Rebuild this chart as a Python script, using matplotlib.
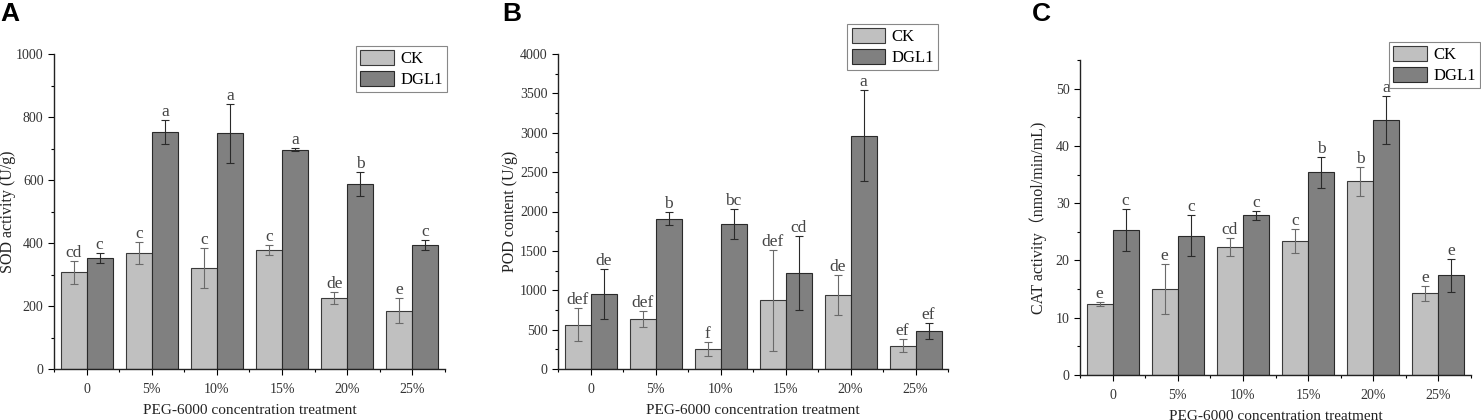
import numpy as np
import matplotlib.pyplot as plt
from matplotlib.ticker import MultipleLocator, AutoMinorLocator

plt.rcParams['font.family'] = ['Liberation Serif', 'Noto Sans CJK SC', 'DejaVu Sans']

groups = ["0", "5%", "10%", "15%", "20%", "25%"]

# A: SOD activity
sod_ck = [307, 368, 320, 378, 226, 185]
sod_ck_err = [36, 35, 64, 17, 19, 40]
sod_dgl = [352, 752, 748, 696, 587, 393]
sod_dgl_err = [15, 37, 94, 5, 38, 15]
sod_ck_let = ["cd", "c", "c", "c", "de", "e"]
sod_dgl_let = ["c", "a", "a", "a", "b", "c"]

# B: POD content
pod_ck = [563, 635, 254, 872, 940, 296]
pod_ck_err = [212, 97, 89, 643, 258, 85]
pod_dgl = [952, 1909, 1841, 1219, 2963, 483]
pod_dgl_err = [318, 85, 187, 470, 576, 105]
pod_ck_let = ["def", "def", "f", "def", "de", "ef"]
pod_dgl_let = ["de", "b", "bc", "cd", "a", "ef"]

# C: CAT activity
cat_ck = [12.4, 15.0, 22.4, 23.4, 33.8, 14.3]
cat_ck_err = [0.3, 4.4, 1.6, 2.1, 2.6, 1.3]
cat_dgl = [25.3, 24.3, 27.9, 35.4, 44.5, 17.4]
cat_dgl_err = [3.6, 3.6, 0.8, 2.7, 4.2, 2.9]
cat_ck_let = ["e", "e", "cd", "c", "b", "e"]
cat_dgl_let = ["c", "c", "c", "b", "a", "e"]

fig = plt.figure(figsize=(14.81, 4.2), dpi=100)

panels = [
    dict(rect=[54/1481, 51/420, 391/1481, 315/420], ck=sod_ck, cke=sod_ck_err, dg=sod_dgl, dge=sod_dgl_err,
         ckl=sod_ck_let, dgl=sod_dgl_let, ylim=(0, 1000), major=200, ylabel="SOD activity (U/g)",
         leg=dict(loc="upper right", bbox_to_anchor=(1.005, 1.025)), letter="A", lx=0.0, ylx=-0.097),
    dict(rect=[558/1481, 51/420, 390/1481, 315/420], ck=pod_ck, cke=pod_ck_err, dg=pod_dgl, dge=pod_dgl_err,
         ckl=pod_ck_let, dgl=pod_dgl_let, ylim=(0, 4000), major=500, ylabel="POD content (U/g)",
         leg=dict(loc="upper right", bbox_to_anchor=(0.975, 1.095)), letter="B", lx=502/1481, ylx=-0.103),
    dict(rect=[1080/1481, 45/420, 391/1481, 315/420], ck=cat_ck, cke=cat_ck_err, dg=cat_dgl, dge=cat_dgl_err,
         ckl=cat_ck_let, dgl=cat_dgl_let, ylim=(0, 55), major=10, ylabel="CAT activity（nmol/min/mL)",
         leg=dict(loc="upper right", bbox_to_anchor=(1.023, 1.057)), letter="C", lx=1032/1481, ylx=-0.084),
]

x = np.arange(len(groups))
w = 0.4
for p in panels:
    ax = fig.add_axes(p["rect"])
    ax.bar(x - w/2, p["ck"], w, color="#c0c0c0", edgecolor="#3a3a3a", linewidth=0.8, label="CK",
           yerr=p["cke"], error_kw=dict(ecolor="#6a6a6a", elinewidth=0.8, capsize=3, capthick=0.8))
    ax.bar(x + w/2, p["dg"], w, color="#808080", edgecolor="#2a2a2a", linewidth=0.8, label="DGL1",
           yerr=p["dge"], error_kw=dict(ecolor="#2a2a2a", elinewidth=0.8, capsize=3, capthick=0.8))
    for xi, v, e, t in zip(x - w/2, p["ck"], p["cke"], p["ckl"]):
        ax.annotate(t, (xi, v + e), xytext=(0, 0), textcoords="offset points",
                    ha="center", va="bottom", fontsize=12.5, color="#444444")
    for xi, v, e, t in zip(x + w/2, p["dg"], p["dge"], p["dgl"]):
        ax.annotate(t, (xi, v + e), xytext=(0, 0), textcoords="offset points",
                    ha="center", va="bottom", fontsize=12.5, color="#444444")
    ax.set_xlim(-0.5, 5.5)
    ax.set_ylim(*p["ylim"])
    ax.set_xticks(x)
    ax.set_xticklabels(groups)
    ax.set_xticks(np.arange(-0.5, 6.0, 1.0), minor=True)
    ax.yaxis.set_major_locator(MultipleLocator(p["major"]))
    ax.yaxis.set_minor_locator(AutoMinorLocator(2))
    ax.tick_params(axis="both", which="major", length=4, width=0.8, labelsize=10, labelcolor="#333333", direction="out")
    ax.tick_params(axis="both", which="minor", length=2.5, width=0.8, direction="out")
    ax.tick_params(axis="x", pad=6)
    for s in ["top", "right"]:
        ax.spines[s].set_visible(False)
    for s in ["left", "bottom"]:
        ax.spines[s].set_linewidth(1.0)
        ax.spines[s].set_color("#222222")
    ax.set_xlabel("PEG-6000 concentration treatment", fontsize=11, color="#222222", labelpad=6)
    ax.set_ylabel(p["ylabel"], fontsize=11.5, color="#222222")
    ax.yaxis.set_label_coords(p["ylx"], 0.5)
    leg = ax.legend(fontsize=12, frameon=True, fancybox=False, edgecolor="#888888", framealpha=1,
                    handlelength=2.0, handleheight=1.0, labelspacing=0.2, borderpad=0.25,
                    handletextpad=0.4, borderaxespad=0, **p["leg"])
    leg.get_frame().set_linewidth(0.8)
    fig.text(p["lx"], 0.995, p["letter"], ha="left", va="top", fontsize=19, fontweight="bold",
             family="Liberation Sans")

fig.savefig("out.png", dpi=100)
